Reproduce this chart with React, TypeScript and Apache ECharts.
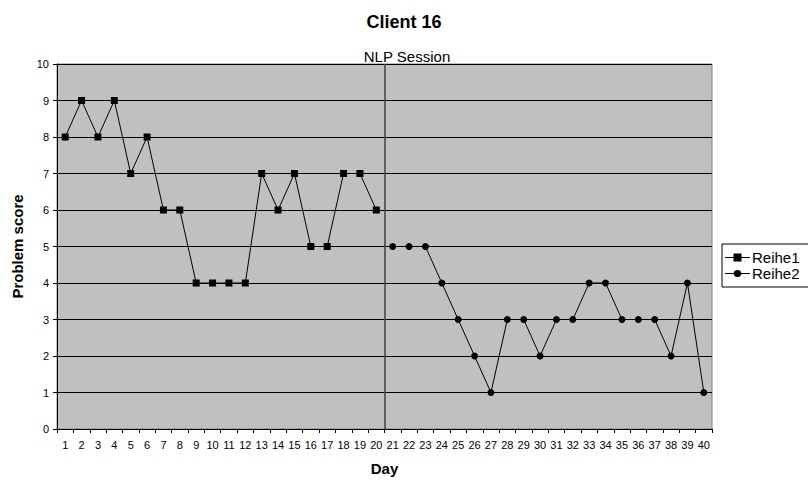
import React, { useEffect, useRef } from "react";
import * as echarts from "echarts";

const days = Array.from({ length: 40 }, (_, i) => String(i + 1));
const reihe1 = [8, 9, 8, 9, 7, 8, 6, 6, 4, 4, 4, 4, 7, 6, 7, 5, 5, 7, 7, 6];
const reihe2 = [5, 5, 5, 4, 3, 2, 1, 3, 3, 2, 3, 3, 4, 4, 3, 3, 3, 2, 4, 1];
const sessionBoundary = 20; // NLP session begins after day 20

const FONT = "Liberation Sans, Arial, sans-serif";

const ICON_SQUARE =
  "path://M0,3.5L8.5,3.5L8.5,0L16.5,0L16.5,3.5L25,3.5L25,4.5L16.5,4.5L16.5,8L8.5,8L8.5,4.5L0,4.5Z";
const ICON_CIRCLE =
  "path://M0,3.5L8.6,3.5A4,4 0 0 1 16.4,3.5L25,3.5L25,4.5L16.4,4.5A4,4 0 0 1 8.6,4.5L0,4.5Z";

export default function App() {
  const ref = useRef<HTMLDivElement>(null);
  useEffect(() => {
    if (!ref.current) return;
    const chart = echarts.init(ref.current, null, { renderer: "svg" });
    const s1 = days.map((_, i) => (i < reihe1.length ? reihe1[i] : null));
    const s2 = days.map((_, i) => (i >= reihe1.length ? reihe2[i - reihe1.length] : null));
    chart.setOption({
      animation: false,
      textStyle: { fontFamily: FONT },
      title: [
        {
          text: "Client 16",
          left: "center",
          top: 8,
          textStyle: { fontFamily: FONT, fontSize: 18, fontWeight: "bold", color: "#000" },
        },
        {
          text: "NLP Session",
          left: 402,
          top: 44,
          textAlign: "center",
          textStyle: { fontFamily: FONT, fontSize: 15, fontWeight: "normal", color: "#000" },
        },
      ],
      legend: {
        orient: "vertical",
        left: 722,
        top: 244,
        padding: [6, 10, 6, 3],
        itemGap: 1,
        itemWidth: 25,
        itemHeight: 8,
        borderColor: "#000",
        borderWidth: 1,
        backgroundColor: "#fff",
        textStyle: { fontFamily: FONT, fontSize: 15, color: "#000", padding: [0, 0, 0, -3] },
        data: [
          { name: "Reihe1", icon: ICON_SQUARE },
          { name: "Reihe2", icon: ICON_CIRCLE },
        ],
      },
      grid: {
        left: 57,
        right: 96,
        top: 64,
        bottom: 55,
        outerBoundsMode: "none",
        containLabel: false,
        show: true,
        backgroundColor: "#C0C0C0",
        borderColor: "#808080",
        borderWidth: 1,
      },
      xAxis: [
        {
          type: "category",
          data: days,
          boundaryGap: true,
          name: "Day",
          nameLocation: "middle",
          nameGap: 32,
          nameTextStyle: { fontFamily: FONT, fontSize: 15, fontWeight: "bold", color: "#000" },
          axisLine: { lineStyle: { color: "#000", width: 1 } },
          axisTick: { show: true, length: 4, lineStyle: { color: "#000" } },
          axisLabel: { fontFamily: FONT, fontSize: 11, color: "#000", margin: 10, interval: 0 },
          splitLine: { show: false },
        },
        {
          type: "value",
          min: 0,
          max: days.length,
          show: false,
          splitLine: { show: false },
        },
      ],
      yAxis: {
        type: "value",
        min: 0,
        max: 10,
        interval: 1,
        name: "Problem score",
        nameLocation: "middle",
        nameGap: 32,
        nameTextStyle: { fontFamily: FONT, fontSize: 15, fontWeight: "bold", color: "#000" },
        axisLine: { show: true, lineStyle: { color: "#000", width: 1 } },
        axisTick: { show: true, length: 4, lineStyle: { color: "#000" } },
        axisLabel: { fontFamily: FONT, fontSize: 11, color: "#000", margin: 8 },
        splitLine: { show: true, lineStyle: { color: "#000", width: 1 } },
      },
      series: [
        {
          name: "Reihe1",
          type: "line",
          xAxisIndex: 0,
          data: s1,
          symbol: "rect",
          symbolSize: 7,
          connectNulls: false,
          itemStyle: { color: "#000" },
          lineStyle: { color: "#000", width: 1 },
        },
        {
          name: "Reihe2",
          type: "line",
          xAxisIndex: 0,
          data: s2,
          symbol: "circle",
          symbolSize: 7,
          connectNulls: false,
          itemStyle: { color: "#000" },
          lineStyle: { color: "#000", width: 1 },
        },
        {
          name: "boundary",
          type: "line",
          xAxisIndex: 1,
          data: [],
          markLine: {
            silent: true,
            symbol: "none",
            label: { show: false },
            lineStyle: { color: "#404040", width: 1.5, type: "solid" },
            data: [{ xAxis: sessionBoundary }],
          },
        },
      ],
    });
    return () => chart.dispose();
  }, []);
  return <div ref={ref} style={{ width: 808, height: 484, position: "absolute", left: 0, top: 0 }} />;
}
